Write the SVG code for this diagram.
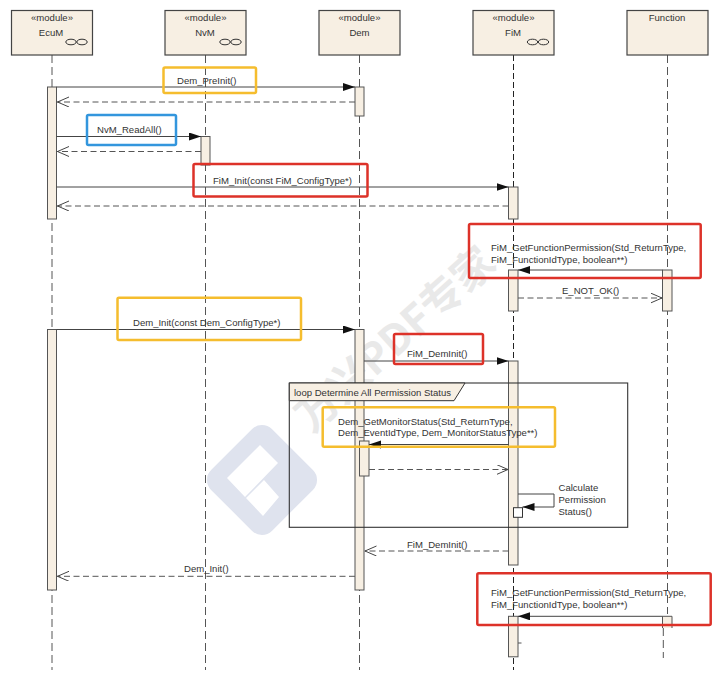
<svg xmlns="http://www.w3.org/2000/svg" width="720" height="676" viewBox="0 0 720 676">
<defs>
<marker id="solid" markerUnits="userSpaceOnUse" markerWidth="13" markerHeight="10" refX="12" refY="4" orient="auto"><path d="M0,0 L12,4 L0,8 Z" fill="#111"/></marker>
<marker id="open" markerUnits="userSpaceOnUse" markerWidth="13" markerHeight="12" refX="12" refY="5" orient="auto"><path d="M0,0 L11.5,5 L0,10" fill="none" stroke="#444" stroke-width="1"/></marker>
</defs>
<style>
text{font-family:"Liberation Sans",Arial,sans-serif;font-size:9.55px;fill:#333}
.nm{text-anchor:middle}
.box{fill:#f7efe3;stroke:#444;stroke-width:1.2}
.bar{fill:#f7efe3;stroke:#555;stroke-width:1}
.life{fill:none;stroke:#555;stroke-width:1;stroke-dasharray:8 4}
.lifed{fill:none;stroke:#222;stroke-width:1;stroke-dasharray:6 3}
.ball{fill:none;stroke:#333;stroke-width:1}
.msg{fill:none;stroke:#444;stroke-width:1;marker-end:url(#solid)}
.ret{fill:none;stroke:#555;stroke-width:1;stroke-dasharray:6 3.5;marker-end:url(#open)}
.y{fill:none;stroke:#f5bd2e;stroke-width:2.5}
.r{fill:none;stroke:#dd3229;stroke-width:2.5}
.b{fill:none;stroke:#3396dd;stroke-width:2.5}
.wm{font-family:"Noto Sans CJK SC","Liberation Sans",sans-serif;font-size:42px;font-weight:700;fill:#e9e9e9}
</style>
<rect width="720" height="676" fill="#fff"/>
<g id="watermark">
<rect x="219" y="437" width="86" height="86" rx="14" fill="#dfe3ee" transform="rotate(45 262 480)"/>
<path d="M260,445 L278,463 L245,497 L227,478 Z M264,480 L279,497 L263,516 L246,498 Z" fill="#fff"/>
<text class="wm" x="312" y="434" transform="rotate(-42 312 434)">万兴PDF专家</text>
</g>
<g id="EcuM">
<path class="life" d="M52,55V670"/>
<rect class="box" x="11.5" y="10.5" width="81" height="44.5"/>
<text class="nm" x="52" y="21">«module»</text>
<text class="nm" x="51" y="36">EcuM</text>
<ellipse class="ball" cx="71" cy="42" rx="5.2" ry="2.8"/><ellipse class="ball" cx="82" cy="42" rx="5.2" ry="2.8"/>
<rect class="bar" x="47.5" y="87" width="9" height="132"/>
<rect class="bar" x="47.5" y="329.5" width="9" height="260.5"/>
</g>
<g id="NvM">
<path class="life" d="M205.5,55V670"/>
<rect class="box" x="165" y="10.5" width="81" height="44.5"/>
<text class="nm" x="205.5" y="21">«module»</text>
<text class="nm" x="205" y="36">NvM</text>
<ellipse class="ball" cx="225" cy="42" rx="5.2" ry="2.8"/><ellipse class="ball" cx="236" cy="42" rx="5.2" ry="2.8"/>
<rect class="bar" x="201" y="136.5" width="9" height="28.5"/>
</g>
<g id="Dem">
<path class="life" d="M359.5,55V670"/>
<rect class="box" x="319" y="10.5" width="81" height="44.5"/>
<text class="nm" x="359.5" y="21">«module»</text>
<text class="nm" x="359.5" y="36">Dem</text>
<rect class="bar" x="355" y="87" width="9" height="29"/>
<rect class="bar" x="355" y="329.5" width="9" height="260.5"/>
<rect class="bar" x="359.5" y="441" width="9.5" height="35"/>
</g>
<g id="FiM">
<path class="lifed" d="M513.5,55V670"/>
<rect class="box" x="473" y="10.5" width="81" height="44.5"/>
<text class="nm" x="513.5" y="21">«module»</text>
<text class="nm" x="513" y="36">FiM</text>
<ellipse class="ball" cx="532.5" cy="42" rx="5.2" ry="2.8"/><ellipse class="ball" cx="543.5" cy="42" rx="5.2" ry="2.8"/>
<rect class="bar" x="508.5" y="187" width="9.5" height="32"/>
<rect class="bar" x="508.5" y="270" width="9.5" height="41"/>
<rect class="bar" x="508.5" y="361" width="9.5" height="204"/>
<rect class="bar" x="508.5" y="616.3" width="9.5" height="40.5"/>
<path d="M518,643H521.5" stroke="#555" stroke-width="1" fill="none"/>
<rect x="513.5" y="507.7" width="9" height="9.6" fill="#fff" stroke="#333" stroke-width="1"/>
</g>
<g id="Function">
<path class="life" d="M667.5,55V614"/>
<path class="life" d="M663.3,628V658"/>
<rect class="box" x="627" y="10.5" width="81" height="44.5"/>
<text class="nm" x="667" y="21">Function</text>
<rect class="bar" x="662.5" y="270" width="9.5" height="41"/>
<path d="M662.5,628V616.3H672V628" fill="#f7efe3" stroke="#555" stroke-width="1"/>
</g>
<g id="frame">
<rect x="289.3" y="383" width="338.4" height="144.3" fill="none" stroke="#333" stroke-width="1.1"/>
<path d="M289.3,383H465L454,400.7H289.3Z" fill="#f7efe3" stroke="#333" stroke-width="1"/>
<text x="294" y="395.5">loop Determine All Permission Status</text>
</g>
<g id="connectors">
<path class="msg" d="M56.5,87H355"/>
<path class="ret" d="M355,102H57"/>
<path class="msg" d="M56.5,136.5H201"/>
<path class="ret" d="M201,151.5H57"/>
<path class="msg" d="M56.5,187H508.5"/>
<path class="ret" d="M508.5,206H57"/>
<path class="msg" d="M662.5,270H518"/>
<path class="ret" d="M518,298H662.5"/>
<path class="msg" d="M56.5,329.5H355"/>
<path class="msg" d="M364,361H508.5"/>
<path class="msg" d="M508.5,444.5H369"/>
<path class="ret" d="M369,469.5H508.5"/>
<path class="msg" d="M518,494H554V507H522.5"/>
<path class="ret" d="M508.5,551H364.5"/>
<path class="ret" d="M355,576.3H57"/>
<path class="msg" d="M662.5,616.3H518"/>
</g>
<g id="labels">
<text x="177" y="83.5">Dem_PreInit()</text>
<text x="97" y="132.5">NvM_ReadAll()</text>
<text x="213" y="183.5">FiM_Init(const FiM_ConfigType*)</text>
<text x="491" y="251">FiM_GetFunctionPermission(Std_ReturnType,</text>
<text x="491" y="262.5">FiM_FunctionIdType, boolean**)</text>
<text x="562" y="293.5">E_NOT_OK()</text>
<text x="133" y="326">Dem_Init(const Dem_ConfigType*)</text>
<text x="407" y="356.5">FiM_DemInit()</text>
<text x="338" y="424.5">Dem_GetMonitorStatus(Std_ReturnType,</text>
<text x="338" y="435.5">Dem_EventIdType, Dem_MonitorStatusType**)</text>
<text x="558.5" y="491">Calculate</text>
<text x="558.5" y="502.5">Permission</text>
<text x="558.5" y="514.5">Status()</text>
<text x="407" y="548">FiM_DemInit()</text>
<text x="184" y="572">Dem_Init()</text>
<text x="491" y="596">FiM_GetFunctionPermission(Std_ReturnType,</text>
<text x="491" y="608">FiM_FunctionIdType, boolean**)</text>
</g>
<g id="highlights">
<rect class="y" x="163.5" y="67.5" width="92.5" height="25.5" rx="1.5"/>
<rect class="b" x="87" y="115" width="89" height="30" rx="1.5"/>
<rect class="r" x="193.5" y="164" width="174" height="32.5" rx="1.5"/>
<rect class="r" x="469" y="224" width="231.7" height="54" rx="1.5"/>
<rect class="y" x="117.5" y="297.7" width="183.5" height="42.3" rx="1.5"/>
<rect class="r" x="394" y="334" width="89" height="30" rx="1.5"/>
<rect class="y" x="322.7" y="407.3" width="232.3" height="39.4" rx="1.5"/>
<rect class="r" x="477.3" y="573.3" width="233.4" height="51.7" rx="1.5"/>
</g>
</svg>
